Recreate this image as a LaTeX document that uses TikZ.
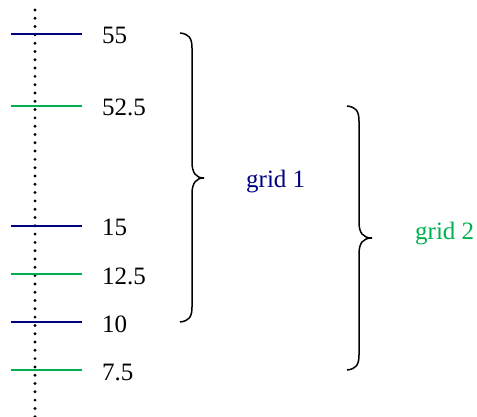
\documentclass[tikz,border=0pt]{standalone}
\usepackage{fontspec}
\setmainfont{Liberation Serif}
\begin{document}
\begin{tikzpicture}[x=1pt,y=-1pt,
  gridA/.style={draw={rgb,255:red,0;green,0;blue,128}, line width=2pt},
  gridB/.style={draw={rgb,255:red,0;green,176;blue,80}, line width=2pt},
  val/.style={anchor=base west, inner sep=0pt, font=\fontsize{25}{29}\selectfont},
  bracket/.style={draw=black, line width=1.5pt},
  gname/.style={anchor=base west, inner sep=0pt, font=\fontsize{25}{29}\selectfont}]
\useasboundingbox (0,0) rectangle (477,417);

% dotted axis, drawn as a column of round dots
\foreach \k in {0,...,49}{
  \fill (35,10+8.3*\k) circle[radius=1.6pt];
}

% grid levels: y position, label, style
\foreach \yy/\lab/\st/\nm in {34/55/gridA/a, 106/52.5/gridB/b, 226/15/gridA/c, 274/12.5/gridB/d, 322/10/gridA/e, 370/7.5/gridB/f}{
  \coordinate (l\nm) at (11,\yy);
  \coordinate (r\nm) at (82,\yy);
  \draw[\st] (l\nm) -- (r\nm);
  \node[val] (t\nm) at (102,\yy+10) {\lab};
}

% brace for grid 1
\coordinate (b1top) at (180,33);
\coordinate (b1tip) at (204,178);
\coordinate (b1bot) at (180,322);
\draw[bracket] (b1top) .. controls (189,34) and (192,38) .. (192,48)
  -- (192,162) .. controls (192,173) and (196,178) .. (b1tip)
  .. controls (196,178) and (192,183) .. (192,194)
  -- (192,307) .. controls (192,317) and (189,321) .. (b1bot);
\node[gname, text={rgb,255:red,0;green,0;blue,128}] (g1) at (246,188) {grid 1};

% brace for grid 2
\coordinate (b2top) at (347,106);
\coordinate (b2tip) at (372,238);
\coordinate (b2bot) at (347,370);
\draw[bracket] (b2top) .. controls (356,107) and (359,111) .. (359,121)
  -- (359,222) .. controls (359,233) and (363,238) .. (b2tip)
  .. controls (363,238) and (359,243) .. (359,254)
  -- (359,355) .. controls (359,365) and (356,369) .. (b2bot);
\node[gname, text={rgb,255:red,0;green,176;blue,80}] (g2) at (415,240) {grid 2};
\end{tikzpicture}
\end{document}
